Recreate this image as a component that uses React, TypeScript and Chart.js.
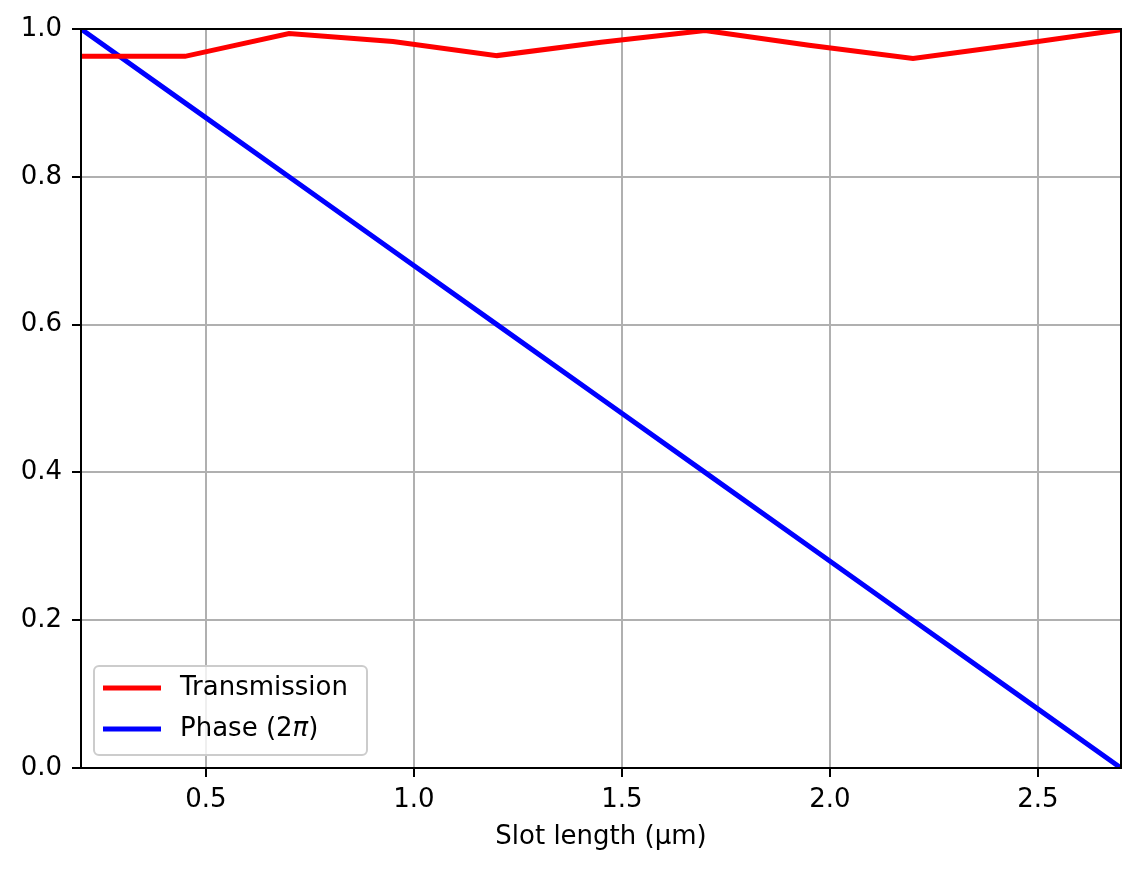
import { Chart, registerables, ChartItem, Plugin } from "chart.js";
import { useEffect, useRef } from "react";

Chart.register(...registerables);

// slot length in µm
const slotLength = [0.2, 0.45, 0.7, 0.95, 1.2, 1.45, 1.7, 1.95, 2.2, 2.45, 2.7];
const transmission = [0.963, 0.963, 0.994, 0.983, 0.964, 0.982, 0.998, 0.978, 0.96, 0.979, 0.999];
const phase = [1.0, 0.9, 0.8, 0.7, 0.6, 0.5, 0.4, 0.3, 0.2, 0.1, 0.0];
const xTicks = [0.5, 1.0, 1.5, 2.0, 2.5];

const FONT = "'DejaVu Sans', 'Liberation Sans', sans-serif";
const SIZE = 26;

const frame: Plugin = {
  id: "frame",
  afterDatasetsDraw(chart) {
    const { ctx, chartArea: a } = chart;
    ctx.save();
    ctx.strokeStyle = "#000";
    ctx.lineWidth = 2;
    ctx.strokeRect(a.left, a.top, a.right - a.left, a.bottom - a.top);
    ctx.restore();
  },
};

const legendBox: Plugin = {
  id: "legendBox",
  afterDraw(chart) {
    const { ctx, chartArea: a } = chart;
    const w = 273;
    const h = 89;
    const x = a.left + 13;
    const y = a.bottom - 13 - h;
    ctx.save();
    ctx.beginPath();
    ctx.roundRect(x, y, w, h, 5);
    ctx.fillStyle = "rgba(255,255,255,0.8)";
    ctx.fill();
    ctx.strokeStyle = "#cccccc";
    ctx.lineWidth = 2;
    ctx.stroke();

    const rows = [
      { color: "#ff0000", y: y + 22 },
      { color: "#0000ff", y: y + 63 },
    ];
    rows.forEach((r) => {
      ctx.beginPath();
      ctx.moveTo(x + 9, r.y);
      ctx.lineTo(x + 67, r.y);
      ctx.strokeStyle = r.color;
      ctx.lineWidth = 5;
      ctx.stroke();
    });

    ctx.fillStyle = "#000";
    ctx.textBaseline = "middle";
    ctx.textAlign = "left";
    ctx.font = `${SIZE}px ${FONT}`;
    const tx = x + 86;
    ctx.fillText("Transmission", tx, rows[0].y);
    let cx = tx;
    const p1 = "Phase (2";
    ctx.fillText(p1, cx, rows[1].y);
    cx += ctx.measureText(p1).width;
    ctx.font = `oblique ${SIZE}px ${FONT}`;
    ctx.fillText("π", cx, rows[1].y);
    cx += ctx.measureText("π").width;
    ctx.font = `${SIZE}px ${FONT}`;
    ctx.fillText(")", cx, rows[1].y);
    ctx.restore();
  },
};

export default function App() {
  const canvasRef = useRef<HTMLCanvasElement>(null);

  useEffect(() => {
    document.body.style.margin = "0";
    const canvas = canvasRef.current;
    if (canvas == null) return;

    const chart = new Chart(canvas as ChartItem, {
      type: "line",
      data: {
        datasets: [
          {
            label: "Transmission",
            data: slotLength.map((x, i) => ({ x, y: transmission[i] })),
            borderColor: "#ff0000",
            borderWidth: 5,
            pointRadius: 0,
            tension: 0,
            clip: 0,
          },
          {
            label: "Phase (2π)",
            data: slotLength.map((x, i) => ({ x, y: phase[i] })),
            borderColor: "#0000ff",
            borderWidth: 5,
            pointRadius: 0,
            tension: 0,
            clip: 0,
          },
        ],
      },
      options: {
        animation: false,
        responsive: false,
        devicePixelRatio: 1,
        layout: { padding: { left: 0, right: 20, top: 29, bottom: 0 } },
        plugins: {
          legend: { display: false },
          tooltip: { enabled: false },
        },
        scales: {
          x: {
            type: "linear",
            min: 0.2,
            max: 2.7,
            afterBuildTicks: (scale) => {
              scale.ticks = xTicks.map((v) => ({ value: v }));
            },
            afterFit: (scale) => {
              scale.height = 103;
            },
            border: { display: false },
            grid: {
              color: "#b0b0b0",
              lineWidth: 2,
              tickColor: "#000",
              tickLength: 9,
              tickWidth: 2,
            },
            ticks: {
              color: "#000",
              padding: 8,
              font: { family: FONT, size: SIZE },
              callback: (v) => Number(v).toFixed(1),
            },
            title: {
              display: true,
              text: "Slot length (μm)",
              color: "#000",
              font: { family: FONT, size: SIZE },
              padding: { top: 0, bottom: 18 },
            },
          },
          y: {
            type: "linear",
            min: 0,
            max: 1,
            afterFit: (scale) => {
              scale.width = 81;
            },
            border: { display: false },
            grid: {
              color: "#b0b0b0",
              lineWidth: 2,
              tickColor: "#000",
              tickLength: 9,
              tickWidth: 2,
            },
            ticks: {
              stepSize: 0.2,
              color: "#000",
              padding: 10,
              font: { family: FONT, size: SIZE },
              callback: (v) => Number(v).toFixed(1),
            },
          },
        },
      },
      plugins: [frame, legendBox],
    });

    return () => {
      chart.destroy();
    };
  }, []);

  return (
    <div style={{ width: 1141, height: 871, background: "#fff" }}>
      <canvas ref={canvasRef} width={1141} height={871}></canvas>
    </div>
  );
}
